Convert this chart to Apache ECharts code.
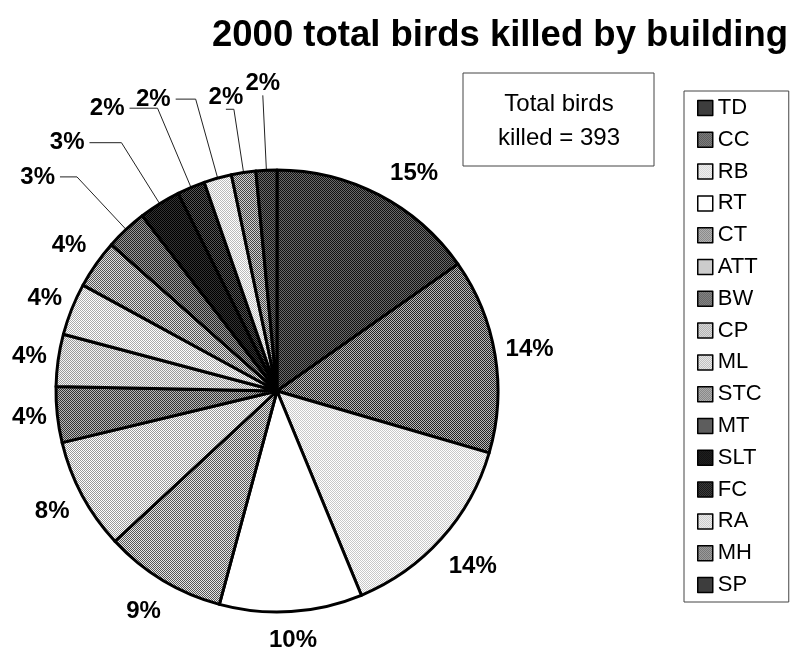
<!DOCTYPE html>
<html><head><meta charset="utf-8">
<script src="https://cdn.jsdelivr.net/npm/echarts@6/dist/echarts.min.js"></script>
<style>html,body{margin:0;padding:0;background:#fff}#c{width:799px;height:658px}</style>
</head><body><div id="c"></div>
<script>
// ---- data ----
const categories = ['TD','CC','RB','RT','CT','ATT','BW','CP','ML','STC','MT','SLT','FC','RA','MH','SP'];
const birdsKilled = [60,56,56,41,35,32,16,15,15,14,12,12,8,8,7,6];
const titleText = '2000 total birds killed by building';
const boxLabel = ['Total birds', 'killed = '];

// ---- styles (dither tones: dark pixel, light pixel) ----
const tones = [
  ['#111111','#6a6a6a'], ['#222222','#b8b8b8'], ['#c8c8c8','#ffffff'], ['#ffffff','#ffffff'],
  ['#555555','#e6e6e6'], ['#999999','#ffffff'], ['#333333','#b8b8b8'], ['#999999','#f4f4f4'],
  ['#aaaaaa','#ffffff'], ['#555555','#e0e0e0'], ['#222222','#999999'], ['#000000','#333333'],
  ['#000000','#555555'], ['#bbbbbb','#ffffff'], ['#444444','#d0d0d0'], ['#111111','#6a6a6a']
];
// label placement tweaks: radial length, horizontal length, gap, line shown, alignment
const labelTweaks = [
  {len:24, len2:0, dist:0, line:false, align:'left',   valign:'middle'},
  {len:35, len2:0, dist:0, line:false, align:'center', valign:'middle'},
  {len:42, len2:0, dist:0, line:false, align:'center', valign:'middle'},
  {len:29, len2:0, dist:0, line:false, align:'center', valign:'middle'},
  {len:37, len2:0, dist:0, line:false, align:'center', valign:'middle'},
  {len:34, len2:0, dist:0, line:false, align:'center', valign:'middle'},
  {len:28, len2:0, dist:0, line:false, align:'center', valign:'middle'},
  {len:29, len2:0, dist:0, line:false, align:'center', valign:'middle'},
  {len:29, len2:0, dist:0, line:false, align:'center', valign:'middle'},
  {len:33, len2:0, dist:0, line:false, align:'center', valign:'middle'},
  {len:72, len2:17, dist:5, line:true, align:null, valign:null},
  {len:72, len2:32, dist:5, line:true, align:null, valign:null},
  {len:86, len2:28, dist:5, line:true, align:null, valign:null},
  {len:82, len2:20, dist:5, line:true, align:null, valign:null},
  {len:64, len2:8,  dist:0, line:true, align:'center', valign:'bottom'},
  {len:75, len2:0,  dist:0, line:true, align:'center', valign:'bottom'}
];
const FONT = '"Liberation Sans", Arial, Helvetica, sans-serif';

function ditherPattern(a, b) {
  const c = document.createElement('canvas');
  c.width = 2; c.height = 2;
  const ctx = c.getContext('2d');
  ctx.fillStyle = a; ctx.fillRect(0, 0, 2, 2);
  ctx.fillStyle = b; ctx.fillRect(1, 0, 1, 1); ctx.fillRect(0, 1, 1, 1);
  return { image: c, repeat: 'repeat' };
}

const total = birdsKilled.reduce((s, v) => s + v, 0);

const pieData = categories.map((name, i) => {
  const t = labelTweaks[i];
  return {
    name: name,
    value: birdsKilled[i],
    itemStyle: { color: ditherPattern(tones[i][0], tones[i][1]) },
    label: { distanceToLabelLine: t.dist },
    labelLine: { show: t.line, length: t.len, length2: t.len2 }
  };
});

const chart = echarts.init(document.getElementById('c'), null, { renderer: 'canvas' });
chart.setOption({
  animation: false,
  backgroundColor: '#ffffff',
  title: {
    text: titleText,
    left: 212, top: 17, padding: 0,
    textStyle: { fontSize: 36.5, fontWeight: 'bold', color: '#000', fontFamily: FONT }
  },
  legend: {
    orient: 'vertical',
    left: 684, top: 91,
    padding: [6, 27, 6, 13],
    borderColor: '#444', borderWidth: 1,
    backgroundColor: '#fff',
    itemWidth: 15, itemHeight: 15, itemGap: 9.8,
    icon: 'rect',
    selectedMode: false,
    itemStyle: { borderColor: '#000', borderWidth: 1.5 },
    textStyle: { fontSize: 22, lineHeight: 22, color: '#000', fontFamily: FONT },
    data: categories
  },
  graphic: [
    { type: 'rect', shape: { x: 463, y: 73, width: 191, height: 93 },
      style: { fill: '#fff', stroke: '#444', lineWidth: 1 } },
    { type: 'text', x: 559, y: 121,
      style: { text: boxLabel[0] + '\n' + boxLabel[1] + total, fontSize: 24, fontFamily: FONT,
               fill: '#000', align: 'center', verticalAlign: 'middle', lineHeight: 34 } }
  ],
  series: [{
    type: 'pie',
    center: [277, 391],
    radius: 221,
    startAngle: 90,
    clockwise: true,
    avoidLabelOverlap: false,
    silent: true,
    emphasis: { scale: false },
    itemStyle: { borderColor: '#000', borderWidth: 3 },
    label: {
      show: true, position: 'outside',
      fontSize: 24, fontWeight: 'bold', color: '#000', fontFamily: FONT,
      formatter: p => Math.round(p.value / total * 100) + '%'
    },
    labelLine: { lineStyle: { color: '#222', width: 1 } },
    labelLayout: function (p) {
      const t = labelTweaks[p.dataIndex];
      const o = {};
      if (t.align) o.align = t.align;
      if (t.valign) o.verticalAlign = t.valign;
      return o;
    },
    data: pieData
  }]
});
</script>
</body></html>
